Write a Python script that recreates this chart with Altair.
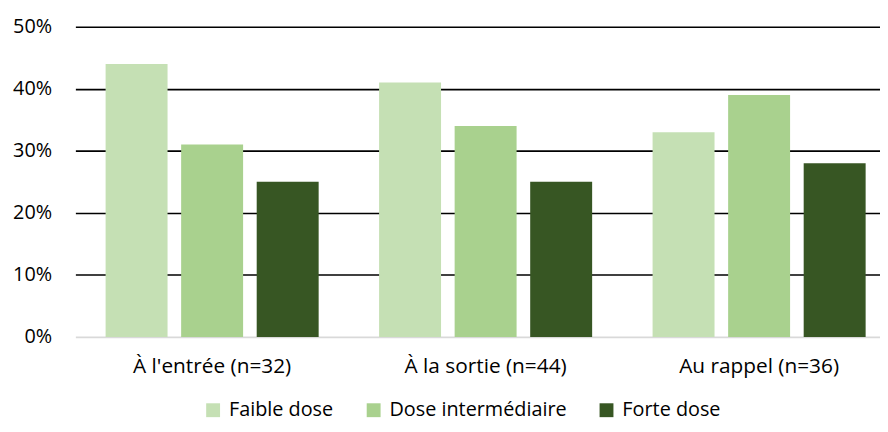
import altair as alt
import pandas as pd

groups = ["À l'entrée (n=32)", "À la sortie (n=44)", "Au rappel (n=36)"]
series = ["Faible dose", "Dose intermédiaire", "Forte dose"]
faible = [0.44, 0.41, 0.33]
inter = [0.31, 0.34, 0.39]
forte = [0.25, 0.25, 0.28]
colors = ["#C5E0B4", "#A9D18E", "#375623"]

rows = []
for i, g in enumerate(groups):
    for s, vals in zip(series, [faible, inter, forte]):
        rows.append({"groupe": g, "serie": s, "valeur": vals[i]})
df = pd.DataFrame(rows)

FONT = "Open Sans"
FS = 20

bars = alt.Chart(df).mark_bar().encode(
    x=alt.X("groupe:N", sort=groups, title=None,
            scale=alt.Scale(paddingInner=0, paddingOuter=0, range=[2, 830]),
            axis=alt.Axis(labelAngle=0, domain=False, ticks=False, labelPadding=19,
                          labelFontSize=21, labelFont=FONT, labelColor="#000000")),
    xOffset=alt.XOffset("serie:N", sort=series,
                        scale=alt.Scale(paddingInner=0.18, paddingOuter=0.4)),
    y=alt.Y("valeur:Q", title=None,
            scale=alt.Scale(domain=[0, 0.5]),
            axis=alt.Axis(values=[0, 0.1, 0.2, 0.3, 0.4, 0.5], format=".0%",
                          domain=False, ticks=False, labelPadding=22, grid=True,
                          labelFontSize=FS, labelFont=FONT, labelColor="#000000",
                          gridColor={"condition": {"test": "datum.value === 0", "value": "#d9d9d9"},
                                     "value": "#000000"},
                          gridWidth=1.6)),
    color=alt.Color("serie:N", sort=series,
                    scale=alt.Scale(domain=series, range=colors),
                    legend=alt.Legend(title=None, orient="none", direction="horizontal",
                                      legendX=131, legendY=377,
                                      symbolType="square", symbolSize=196,
                                      symbolStrokeWidth=0, symbolOpacity=1,
                                      labelFontSize=FS, labelFont=FONT, labelLimit=400,
                                      labelColor="#000000", columnPadding=30,
                                      labelOffset=6)),
)

chart = bars.properties(
    width=814, height=313,
    padding={"left": 66, "top": 17, "right": 0, "bottom": 86},
    autosize="none",
).configure_view(stroke=None)

chart.save("out.html", embed_options={"renderer": "svg", "actions": False})
